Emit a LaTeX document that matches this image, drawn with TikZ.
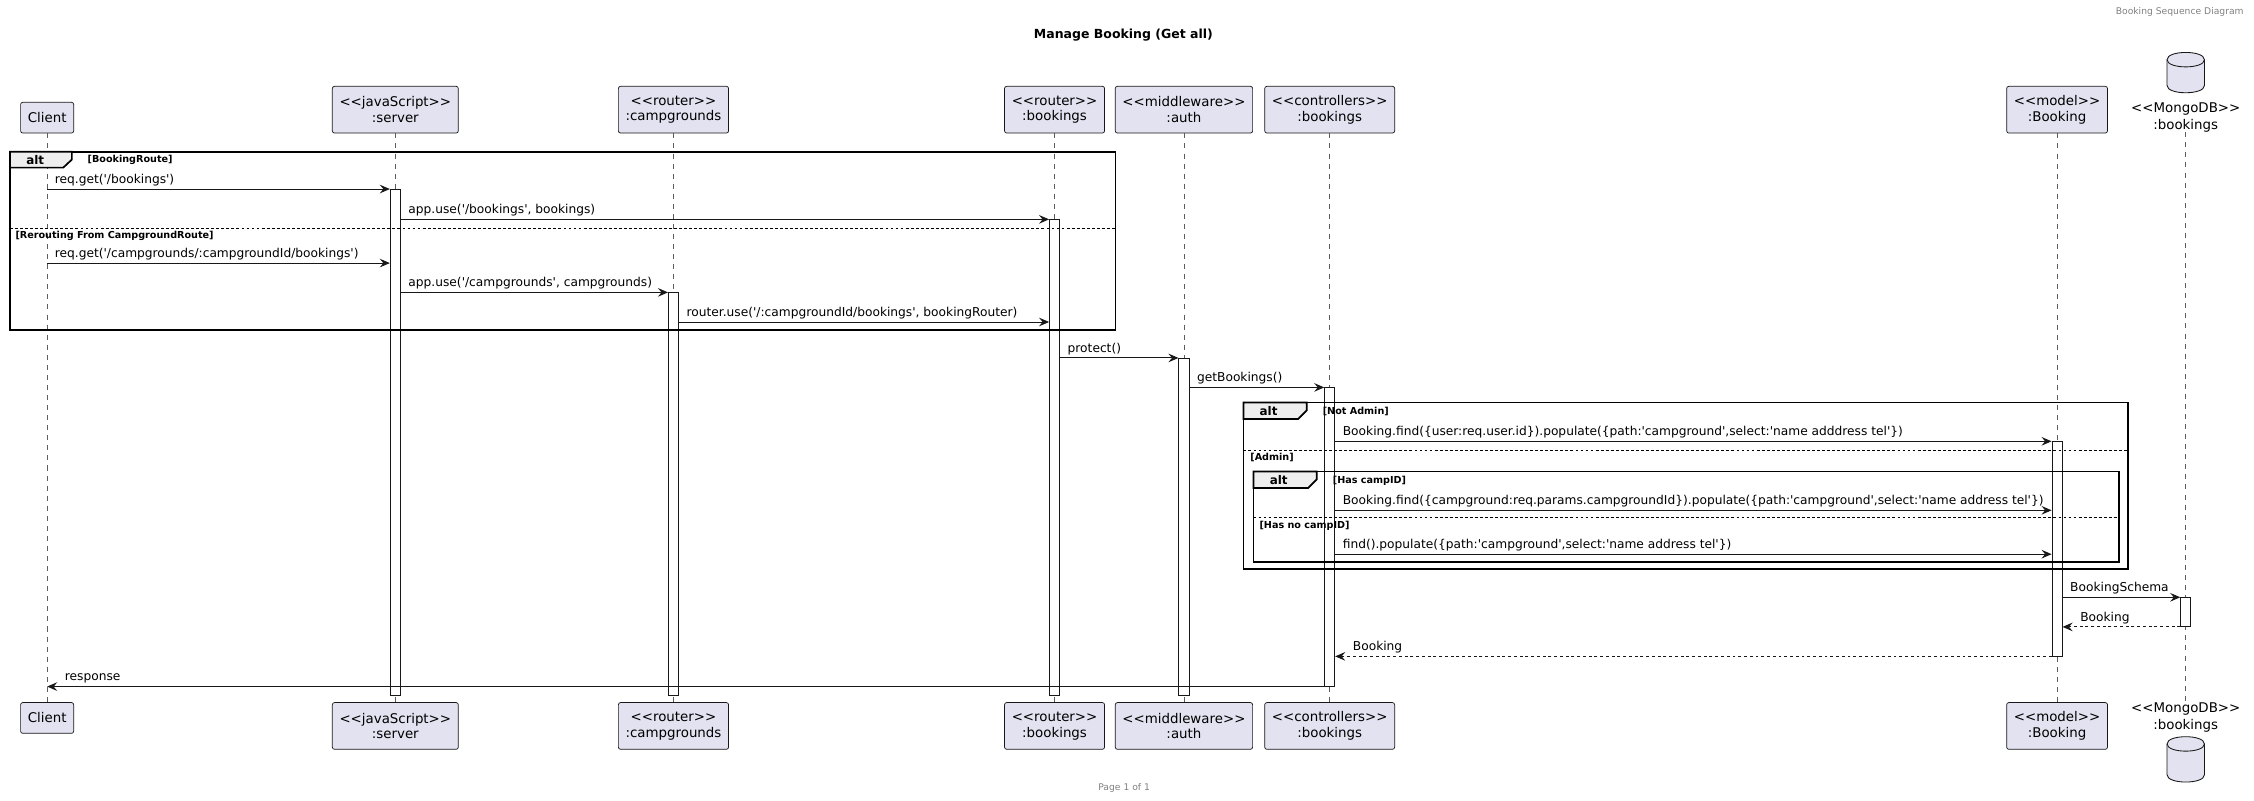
\documentclass[tikz,border=0pt]{standalone}
\usepackage{fontspec}
\setmainfont{DejaVu Sans}[Ligatures=TeXOff]
\usepackage{tikz}
\usetikzlibrary{positioning, arrows.meta}

\definecolor{partfill}{HTML}{E2E2F0}
\definecolor{partline}{HTML}{181818}
\definecolor{tabfill}{HTML}{EEEEEE}

\tikzset{
  partbox/.style={draw=partline, line width=0.5pt, fill=partfill, rounded corners=1.5pt, align=center,
    inner xsep=5pt, inner ysep=0pt, minimum height=32.5pt, font=\fontsize{9.3}{10.8}\selectfont},
  dblabel/.style={align=center, inner sep=0pt, font=\fontsize{9.3}{11.4}\selectfont},
  lifeline/.style={draw=partline!70, line width=0.5pt, dash pattern=on 3.5pt off 3.5pt},
  actbar/.style={draw=partline, line width=0.6pt, fill=white, minimum width=7pt, inner sep=0pt, anchor=north},
  msg/.style={draw=partline, line width=0.7pt, -{Stealth[length=7pt, width=6pt, inset=2.5pt]}},
  ret/.style={msg, dash pattern=on 2pt off 2pt},
  lbl/.style={font=\fontsize{8.5}{10}\selectfont, inner sep=0pt, anchor=base west},
  altframe/.style={draw=black, line width=1.2pt},
  alttab/.style={altframe, fill=tabfill},
  altkw/.style={font=\fontsize{8.3}{9}\selectfont\bfseries, inner sep=0pt},
  guard/.style={font=\fontsize{6.7}{8}\selectfont\bfseries, inner sep=0pt, anchor=west},
  altsep/.style={draw=black, line width=0.6pt, dash pattern=on 2pt off 1.5pt},
  small/.style={font=\fontsize{6.4}{7}\selectfont, text=gray, inner sep=0pt}
}

\begin{document}
\begin{tikzpicture}[x=1pt, y=-1pt]
\useasboundingbox (0,0) rectangle (1568,557);

\node[small, anchor=east] (header) at (1561,8.1) {Booking Sequence Diagram};
\node[font=\fontsize{8.7}{10}\selectfont\bfseries, inner sep=0pt] (title) at (781.5,24.3) {Manage Booking (Get all)};
\node[small] (footer) at (782,548.3) {Page 1 of 1};

% participants, top
\node[partbox, anchor=south, minimum height=21.4pt] (client) at (32.8,92.8) {Client};
\node[partbox, anchor=south] (server) at (275,92.8) {<<javaScript>>\\:server};
\node[partbox, anchor=south] (camp) at (468.5,92.8) {<<router>>\\:campgrounds};
\node[partbox, anchor=south] (rbook) at (733.6,92.8) {<<router>>\\:bookings};
\node[partbox, anchor=south] (auth) at (823.6,92.8) {<<middleware>>\\:auth};
\node[partbox, anchor=south] (ctrl) at (925,92.8) {<<controllers>>\\:bookings};
\node[partbox, anchor=south] (model) at (1431,92.8) {<<model>>\\:Booking};
\node[dblabel, anchor=south] (mongo) at (1520.5,92) {<<MongoDB>>\\:bookings};
\draw[partline, line width=0.6pt, fill=partfill] (1507.5,41.5) -- (1507.5,59.5) .. controls (1507.5,66.2) and (1533.5,66.2) .. (1533.5,59.5) -- (1533.5,41.5) .. controls (1533.5,34.8) and (1507.5,34.8) .. (1507.5,41.5) -- cycle;
\draw[partline, line width=0.6pt] (1507.5,41.5) .. controls (1507.5,48.2) and (1533.5,48.2) .. (1533.5,41.5);

% participants, bottom
\node[partbox, anchor=north, minimum height=21.4pt] (clientB) at (32.8,488.5) {Client};
\node[partbox, anchor=north] (serverB) at (275,488.5) {<<javaScript>>\\:server};
\node[partbox, anchor=north] (campB) at (468.5,488.5) {<<router>>\\:campgrounds};
\node[partbox, anchor=north] (rbookB) at (733.6,488.5) {<<router>>\\:bookings};
\node[partbox, anchor=north] (authB) at (823.6,488.5) {<<middleware>>\\:auth};
\node[partbox, anchor=north] (ctrlB) at (925,488.5) {<<controllers>>\\:bookings};
\node[partbox, anchor=north] (modelB) at (1431,488.5) {<<model>>\\:Booking};
\node[dblabel, anchor=north] (mongoB) at (1520.5,489) {<<MongoDB>>\\:bookings};
\draw[partline, line width=0.6pt, fill=partfill] (1507.5,517.5) -- (1507.5,539) .. controls (1507.5,545.7) and (1533.5,545.7) .. (1533.5,539) -- (1533.5,517.5) .. controls (1533.5,510.8) and (1507.5,510.8) .. (1507.5,517.5) -- cycle;
\draw[partline, line width=0.6pt] (1507.5,517.5) .. controls (1507.5,524.2) and (1533.5,524.2) .. (1533.5,517.5);

% lifelines
\draw[lifeline] (client.south) -- (clientB.north);
\draw[lifeline] (server.south) -- (serverB.north);
\draw[lifeline] (camp.south) -- (campB.north);
\draw[lifeline] (rbook.south) -- (rbookB.north);
\draw[lifeline] (auth.south) -- (authB.north);
\draw[lifeline] (ctrl.south) -- (ctrlB.north);
\draw[lifeline] (model.south) -- (modelB.north);
\draw[lifeline] (mongo.south) -- (mongoB.north);

% activations
\node[actbar, minimum height=352pt] (aServer) at (275,131.5) {};
\node[actbar, minimum height=280.1pt] (aCamp) at (468.5,203.4) {};
\node[actbar, minimum height=330.9pt] (aRbook) at (733.6,152.6) {};
\node[actbar, minimum height=234.5pt] (aAuth) at (823.6,249) {};
\node[actbar, minimum height=207.5pt] (aCtrl) at (925,269.5) {};
\node[actbar, minimum height=149pt] (aModel) at (1431,307) {};
\node[actbar, minimum height=20pt] (aMongo) at (1520.5,415.5) {};

% alt: routes
\draw[altframe] (7,105.5) rectangle (776,229.6);
\draw[alttab] (7,105.5) -- (50,105.5) -- (50,111) -- (44,116.6) -- (7,116.6) -- cycle;
\node[altkw] (alt1) at (24.5,111.2) {alt};
\node[guard] (g1) at (60.8,111.5) {[BookingRoute]};
\draw[altsep] (7,158.8) -- (776,158.8);
\node[guard] (g2) at (10.6,163.8) {[Rerouting From CampgroundRoute]};

% alt: admin
\draw[altframe] (865,280) rectangle (1480.5,396);
\draw[alttab] (865,280) -- (909,280) -- (909,285.5) -- (903,291.5) -- (865,291.5) -- cycle;
\node[altkw] (alt2) at (882.5,285.8) {alt};
\node[guard] (g3) at (920,286.3) {[Not Admin]};
\draw[altsep] (865,313.5) -- (1480.5,313.5);
\node[guard] (g4) at (869.6,318.5) {[Admin]};

% alt: campID
\draw[altframe] (872,328) rectangle (1474,391);
\draw[alttab] (872,328) -- (916,328) -- (916,333.5) -- (910,339.5) -- (872,339.5) -- cycle;
\node[altkw] (alt3) at (889.5,333.8) {alt};
\node[guard] (g5) at (927,334.3) {[Has campID]};
\draw[altsep] (872,360) -- (1474,360);
\node[guard] (g6) at (876,366) {[Has no campID]};

% messages
\draw[msg] (client |- aServer.north) -- (aServer.north west)
  node[lbl, pos=0, xshift=5pt, yshift=4pt] {req.get('/bookings')};
\draw[msg] (aServer.east |- aRbook.north) -- (aRbook.north west)
  node[lbl, pos=0, xshift=5pt, yshift=4pt] {app.use('/bookings', bookings)};
\draw[msg] (client |- 0,183) -- (aServer.west |- 0,183)
  node[lbl, pos=0, xshift=5pt, yshift=4pt] {req.get('/campgrounds/:campgroundId/bookings')};
\draw[msg] (aServer.east |- aCamp.north) -- (aCamp.north west)
  node[lbl, pos=0, xshift=5pt, yshift=4pt] {app.use('/campgrounds', campgrounds)};
\draw[msg] (aCamp.east |- 0,224) -- (aRbook.west |- 0,224)
  node[lbl, pos=0, xshift=5pt, yshift=4pt] {router.use('/:campgroundId/bookings', bookingRouter)};
\draw[msg] (aRbook.east |- aAuth.north) -- (aAuth.north west)
  node[lbl, pos=0, xshift=5pt, yshift=4pt] {protect()};
\draw[msg] (aAuth.east |- aCtrl.north) -- (aCtrl.north west)
  node[lbl, pos=0, xshift=5pt, yshift=4pt] {getBookings()};
\draw[msg] (aCtrl.east |- aModel.north) -- (aModel.north west)
  node[lbl, pos=0, xshift=5pt, yshift=4pt] {Booking.find(\{user:req.user.id\}).populate(\{path:'campground',select:'name adddress tel'\})};
\draw[msg] (aCtrl.east |- 0,355) -- (aModel.west |- 0,355)
  node[lbl, pos=0, xshift=5pt, yshift=4pt] {Booking.find(\{campground:req.params.campgroundId\}).populate(\{path:'campground',select:'name address tel'\})};
\draw[msg] (aCtrl.east |- 0,385.5) -- (aModel.west |- 0,385.5)
  node[lbl, pos=0, xshift=5pt, yshift=4pt] {find().populate(\{path:'campground',select:'name address tel'\})};
\draw[msg] (aModel.east |- aMongo.north) -- (aMongo.north west)
  node[lbl, pos=0, xshift=5pt, yshift=4pt] {BookingSchema};
\draw[ret] (aMongo.south west) -- (aModel.east |- aMongo.south)
  node[lbl, pos=1, xshift=12pt, yshift=4pt] {Booking};
\draw[ret] (aModel.south west) -- (aCtrl.east |- aModel.south)
  node[lbl, pos=1, xshift=12pt, yshift=4pt] {Booking};
\draw[msg] (aCtrl.south west) -- (client |- aCtrl.south)
  node[lbl, pos=1, xshift=12pt, yshift=4pt] {response};
\end{tikzpicture}
\end{document}
